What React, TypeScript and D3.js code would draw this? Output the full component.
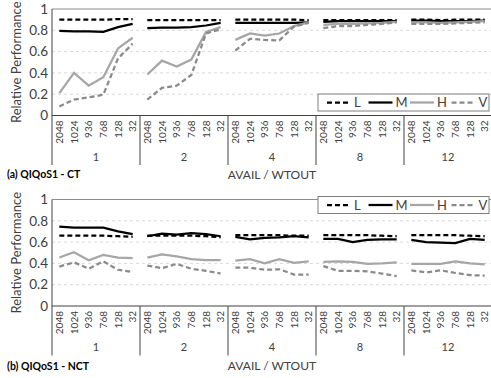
import React, { useEffect, useRef } from "react";
import * as d3 from "d3";

const groups = ["1", "2", "4", "8", "12"];
const wtouts = ["2048", "1024", "936", "768", "128", "32"];
const seriesNames = ["L", "M", "H", "V"];
const yTicks = [0, 0.2, 0.4, 0.6, 0.8, 1];

// (a) CT: 5 groups x 6 wtout values each
const ctL = [
  0.9, 0.9, 0.9, 0.9, 0.905, 0.905,
  0.895, 0.895, 0.895, 0.895, 0.895, 0.895,
  0.9, 0.9, 0.9, 0.9, 0.9, 0.895,
  0.895, 0.895, 0.895, 0.895, 0.895, 0.895,
  0.9, 0.9, 0.895, 0.9, 0.9, 0.9,
];
const ctM = [
  0.795, 0.79, 0.79, 0.786, 0.83, 0.86,
  0.82, 0.825, 0.825, 0.83, 0.845, 0.87,
  0.87, 0.87, 0.87, 0.87, 0.87, 0.875,
  0.88, 0.885, 0.885, 0.885, 0.885, 0.885,
  0.89, 0.89, 0.885, 0.885, 0.885, 0.89,
];
const ctH = [
  0.21, 0.4, 0.28, 0.36, 0.63, 0.73,
  0.385, 0.515, 0.46, 0.525, 0.785, 0.83,
  0.71, 0.77, 0.75, 0.77, 0.84, 0.875,
  0.85, 0.86, 0.86, 0.865, 0.87, 0.88,
  0.875, 0.875, 0.87, 0.875, 0.88, 0.885,
];
const ctV = [
  0.085, 0.15, 0.17, 0.195, 0.535, 0.675,
  0.15, 0.26, 0.28, 0.38, 0.77, 0.81,
  0.61, 0.72, 0.71, 0.705, 0.835, 0.87,
  0.82, 0.84, 0.84, 0.85, 0.86, 0.875,
  0.86, 0.86, 0.86, 0.865, 0.87, 0.875,
];

// (b) NCT
const nctL = [
  0.66, 0.66, 0.66, 0.66, 0.655, 0.65,
  0.66, 0.66, 0.66, 0.66, 0.655, 0.645,
  0.665, 0.665, 0.665, 0.665, 0.66, 0.66,
  0.665, 0.665, 0.665, 0.665, 0.66, 0.655,
  0.665, 0.665, 0.665, 0.665, 0.66, 0.655,
];
const nctM = [
  0.745, 0.735, 0.735, 0.735, 0.7, 0.675,
  0.655, 0.68, 0.67, 0.685, 0.675, 0.655,
  0.65, 0.625, 0.64, 0.645, 0.655, 0.645,
  0.63, 0.63, 0.6, 0.62, 0.625, 0.625,
  0.62, 0.6, 0.595, 0.59, 0.63, 0.62,
];
const nctH = [
  0.455, 0.505, 0.43, 0.48, 0.455, 0.45,
  0.455, 0.485, 0.465, 0.44, 0.43, 0.43,
  0.425, 0.44, 0.4, 0.44, 0.405, 0.42,
  0.415, 0.42, 0.415, 0.395, 0.4, 0.41,
  0.395, 0.395, 0.395, 0.42, 0.4, 0.39,
];
const nctV = [
  0.37, 0.41, 0.35, 0.42, 0.34, 0.32,
  0.38, 0.355, 0.395, 0.35, 0.33, 0.305,
  0.36, 0.36, 0.34, 0.345, 0.295, 0.295,
  0.375, 0.33, 0.33, 0.325, 0.305, 0.28,
  0.335, 0.315, 0.335, 0.31, 0.29, 0.285,
];

const styles = {
  L: { color: "#000000", dash: "5,3" },
  M: { color: "#000000", dash: null },
  H: { color: "#a6a6a6", dash: null },
  V: { color: "#8a8a8a", dash: "5,3" },
};

const FONT = "Lato, 'Open Sans', sans-serif";

function drawPanel(svg, top, label, labelY, data) {
  const left = 52;
  const right = 492;
  const plotTop = top + 9;
  const plotBottom = top + 115.5;

  const g = svg.append("g");

  const x0 = d3.scaleBand().domain(groups).range([left, right]);
  const x1 = d3.scaleBand().domain(wtouts).range([0, x0.bandwidth()]);
  const y = d3.scaleLinear().domain([0, 1]).range([plotBottom, plotTop]);

  // gridlines
  g.selectAll(".grid").data(yTicks.filter((t) => t > 0 && t < 1)).join("line")
    .attr("x1", left).attr("x2", right)
    .attr("y1", (d) => y(d)).attr("y2", (d) => y(d))
    .attr("stroke", "#d9d9d9").attr("stroke-dasharray", "3,3").attr("stroke-width", 1);

  // top border
  g.append("line").attr("x1", left).attr("x2", right).attr("y1", y(1)).attr("y2", y(1))
    .attr("stroke", "#8c8c8c").attr("stroke-width", 1);

  // y tick labels
  g.selectAll(".ytick").data(yTicks).join("text")
    .attr("x", 48).attr("y", (d) => y(d)).attr("dy", "0.35em")
    .attr("text-anchor", "end").style("font-family", FONT).style("font-size", "13.5px").attr("fill", "#404040")
    .text((d) => (d === 0 || d === 1 ? String(d) : d.toFixed(1)));

  g.append("text")
    .attr("transform", `translate(16, ${(plotTop + plotBottom) / 2}) rotate(-90)`)
    .attr("text-anchor", "middle").attr("dy", "0.35em")
    .style("font-family", FONT).style("font-size", "13px").attr("fill", "#404040")
    .text("Relative Performance");

  // series lines, broken between groups
  const line = d3.line().x((d) => d[0]).y((d) => d[1]);
  seriesNames.forEach((name) => {
    const vals = data[name];
    groups.forEach((grp, gi) => {
      const pts = wtouts.map((w, wi) => [
        x0(grp) + x1(w) + x1.bandwidth() / 2,
        y(vals[gi * wtouts.length + wi]),
      ]);
      g.append("path").attr("d", line(pts)).attr("fill", "none")
        .attr("stroke", styles[name].color).attr("stroke-width", 2.25)
        .attr("stroke-dasharray", styles[name].dash);
    });
  });

  // axes
  g.append("line").attr("x1", left).attr("x2", right).attr("y1", plotBottom).attr("y2", plotBottom)
    .attr("stroke", "#404040").attr("stroke-width", 1);
  g.append("line").attr("x1", left).attr("x2", left).attr("y1", plotTop).attr("y2", top + 165)
    .attr("stroke", "#404040").attr("stroke-width", 1);
  g.selectAll(".sep").data(groups.slice(1)).join("line")
    .attr("x1", (d) => x0(d)).attr("x2", (d) => x0(d))
    .attr("y1", plotBottom).attr("y2", top + 165)
    .attr("stroke", "#404040").attr("stroke-width", 1);

  // category labels
  groups.forEach((grp) => {
    g.selectAll(null).data(wtouts).join("text")
      .attr("transform", (w) => `translate(${x0(grp) + x1(w) + x1.bandwidth() / 2}, ${top + 120.5}) rotate(-90)`)
      .attr("text-anchor", "end").attr("dy", "0.35em")
      .style("font-family", FONT).style("font-size", "10px").attr("fill", "#404040")
      .text((w) => w);
    g.append("text").attr("x", x0(grp) + x0.bandwidth() / 2).attr("y", top + 157).attr("dy", "0.35em")
      .attr("text-anchor", "middle").style("font-family", FONT).style("font-size", "11px").attr("fill", "#404040")
      .text(grp);
  });

  g.append("text").attr("x", (left + right) / 2).attr("y", top + 175).attr("dy", "0.35em")
    .attr("text-anchor", "middle").style("font-family", FONT).style("font-size", "12px").attr("fill", "#404040")
    .text("AVAIL / WTOUT");

  g.append("text").attr("x", 7).attr("y", labelY).attr("dy", "0.35em")
    .style("font-family", FONT).style("font-size", "10.5px").style("font-weight", "bold").attr("fill", "#000")
    .text(label);
}

function drawLegend(svg, lx, ly) {
  const g = svg.append("g");
  g.append("rect").attr("x", lx).attr("y", ly).attr("width", 171).attr("height", 17)
    .attr("fill", "#fff").attr("stroke", "#7f7f7f").attr("stroke-width", 1);
  seriesNames.forEach((name, i) => {
    const sx = lx + 9 + i * 41.5;
    g.append("line").attr("x1", sx).attr("x2", sx + 24).attr("y1", ly + 8.5).attr("y2", ly + 8.5)
      .attr("stroke", styles[name].color).attr("stroke-width", 2.25)
      .attr("stroke-dasharray", styles[name].dash);
    g.append("text").attr("x", sx + 27).attr("y", ly + 8.5).attr("dy", "0.35em")
      .style("font-family", FONT).style("font-size", "13px").attr("fill", "#404040")
      .text(name);
  });
}

export default function App() {
  const ref = useRef(null);

  useEffect(() => {
    const svg = d3.select(ref.current);
    svg.selectAll("*").remove();
    drawPanel(svg, 0, "(a) QIQoS1 - CT", 174, { L: ctL, M: ctM, H: ctH, V: ctV });
    drawPanel(svg, 190.5, "(b) QIQoS1 - NCT", 366.5, { L: nctL, M: nctM, H: nctH, V: nctV });
    drawLegend(svg, 318, 94);
    drawLegend(svg, 318, 196.5);
  }, []);

  return (
    <svg ref={ref} width={491} height={378}
      style={{ position: "absolute", left: 0, top: 0, background: "#fff" }} />
  );
}
